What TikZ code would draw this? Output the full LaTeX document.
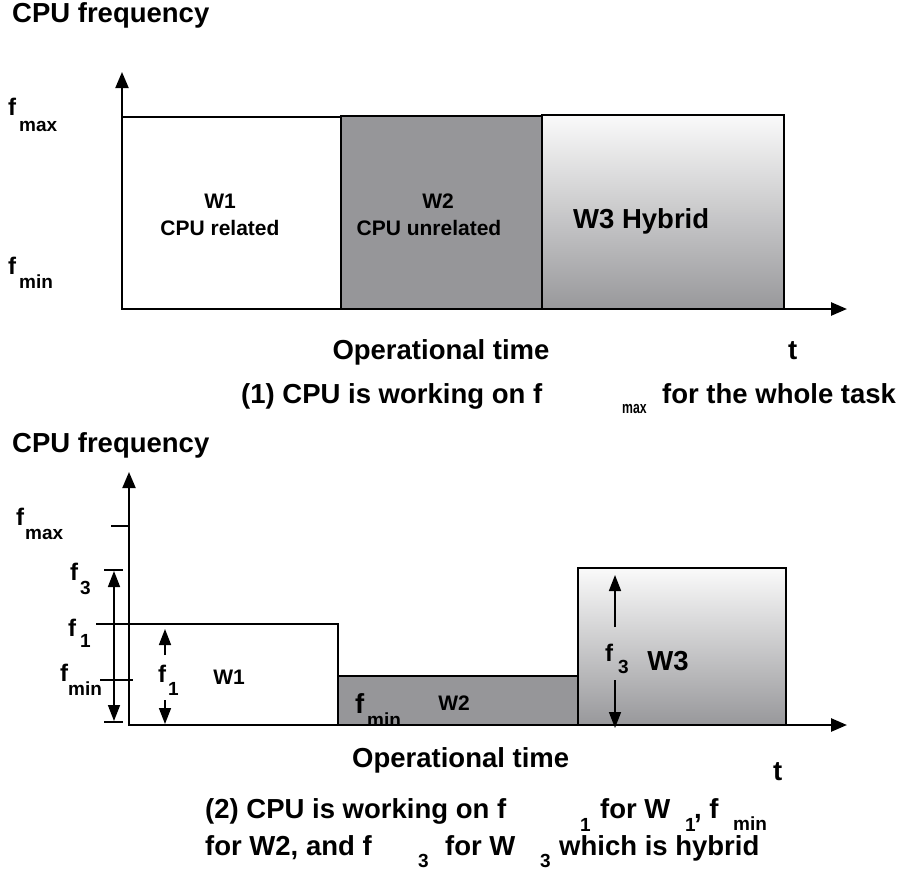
\documentclass[tikz,border=0pt]{standalone}
\usepackage{fontspec}
\setmainfont{Liberation Sans}
\usetikzlibrary{arrows.meta}
\newcommand\myfs[1]{\fontsize{#1}{#1}\selectfont\bfseries}
\definecolor{wtwo}{RGB}{150,150,153}
\definecolor{wthreetop}{RGB}{250,250,250}
\definecolor{wthreebot}{RGB}{152,152,155}
\tikzset{
  axis/.style={line width=2pt,-{Triangle[width=13pt,length=16pt]}},
  arr/.style={line width=1.6pt,-{Triangle[width=12pt,length=16pt]}},
  dblarr/.style={line width=1.6pt,{Triangle[width=12pt,length=16pt]}-{Triangle[width=12pt,length=16pt]}},
  tick/.style={line width=1.4pt},
  boxw/.style={draw=black,line width=1.6pt,fill=white},
  boxg/.style={draw=black,line width=1.6pt,fill=wtwo},
  boxh/.style={draw=black,line width=1.6pt,top color=wthreetop,bottom color=wthreebot},
  big/.style={inner sep=0pt,font=\myfs{27.5}},
  mid/.style={inner sep=0pt,font=\myfs{21}},
  flab/.style={inner sep=0pt,font=\myfs{24}},
  sub/.style={inner sep=0pt,font=\myfs{19}},
}
\begin{document}
\begin{tikzpicture}[x=1pt,y=-1pt]
\useasboundingbox (0,0) rectangle (904,870);
% ---------------- top panel ----------------
\coordinate (o1) at (122,309);
\coordinate (ytip1) at (122,72);
\coordinate (xtip1) at (847,309);
\draw[boxw] (122,117) rectangle (341,309);
\draw[boxg] (341,116) rectangle (542,309);
\draw[boxh] (542,115) rectangle (784,309);
\draw[axis] (o1) -- (ytip1);
\draw[axis,line width=2.6pt] (o1) -- (xtip1);
\node[big,anchor=base west] (cf1) at (12,22) {CPU frequency};
\node[flab,anchor=base west] (fmaxa) at (8,115) {f};
\node[sub,anchor=base west] (fmaxb) at (19,131) {max};
\node[flab,anchor=base west] (fmina) at (8,274) {f};
\node[sub,anchor=base west] (fminb) at (19,288) {min};
\node[mid,anchor=base] (w1a) at (220,208) {W1};
\node[mid,anchor=base] (w1b) at (220,235) {CPU related};
\node[mid,anchor=base] (w2a) at (438,208) {W2};
\node[mid,anchor=base] (w2b) at (429,235) {CPU unrelated};
\node[big,anchor=base west] (w3a) at (573,228) {W3 Hybrid};
\node[big,anchor=base] (op1) at (441,359) {Operational time};
\node[big,anchor=base west] (t1) at (788,359) {t};
\node[big,anchor=base west] (cap1a) at (241,403) {(1) CPU is working on f};
\node[inner sep=0pt,anchor=base west,font=\myfs{17}] (cap1b) at (622,413) {\scalebox{0.72}[1]{max}};
\node[big,anchor=base west] (cap1c) at (662,403) {for the whole task};
% ---------------- bottom panel ----------------
\coordinate (o2) at (129,725);
\coordinate (ytip2) at (129,472);
\coordinate (xtip2) at (847,725);
\draw[boxw] (129,624) rectangle (338,725);
\draw[boxg] (338,676) rectangle (578,725);
\draw[boxh] (578,568) rectangle (786,725);
\draw[tick] (96,624) -- (129,624);
\draw[axis] (o2) -- (ytip2);
\draw[axis,line width=2.6pt] (o2) -- (xtip2);
% ticks
\coordinate (tmaxl) at (111,526); \coordinate (tmaxr) at (129,526);
\draw[tick] (tmaxl) -- (tmaxr);
\coordinate (t3l) at (104,570); \coordinate (t3r) at (123,570);
\coordinate (t0l) at (104,722); \coordinate (t0r) at (123,722);
\draw[tick] (t3l) -- (t3r);
\draw[tick] (t0l) -- (t0r);
\coordinate (tminl) at (100,680); \coordinate (tminr) at (133,680);
\draw[tick] (tminl) -- (tminr);
\coordinate (d3a) at (114,571); \coordinate (d3b) at (114,721);
\draw[dblarr] (d3b) -- (d3a);
% arrows in W1
\coordinate (a1s) at (165,655); \coordinate (a1t) at (165,629);
\coordinate (a2s) at (165,700); \coordinate (a2t) at (165,724);
\draw[arr] (a1s) -- (a1t);
\draw[arr] (a2s) -- (a2t);
% arrows in W3
\coordinate (b1s) at (615,627); \coordinate (b1t) at (615,575);
\coordinate (b2s) at (615,680); \coordinate (b2t) at (615,728);
\draw[arr] (b1s) -- (b1t);
\draw[arr] (b2s) -- (b2t);
% labels
\node[big,anchor=base west] (cf2) at (12,452) {CPU frequency};
\node[flab,anchor=base west] (l1a) at (16,525) {f};
\node[sub,anchor=base west] (l1b) at (25,539) {max};
\node[flab,anchor=base west] (l2a) at (70,580) {f};
\node[sub,anchor=base west] (l2b) at (80,594) {3};
\node[flab,anchor=base west] (l3a) at (68,636) {f};
\node[sub,anchor=base west] (l3b) at (80,647) {1};
\node[flab,anchor=base west] (l4a) at (60,681) {f};
\node[sub,anchor=base west] (l4b) at (68,695) {min};
\node[flab,anchor=base west] (l5a) at (158,682) {f};
\node[sub,anchor=base west] (l5b) at (168,695) {1};
\node[mid,anchor=base] (bw1) at (229,684) {W1};
\node[big,anchor=base west] (l6a) at (355,713) {f};
\node[sub,anchor=base west] (l6b) at (367,726) {min};
\node[mid,anchor=base] (bw2) at (454,710) {W2};
\node[flab,anchor=base west] (l7a) at (605,661) {f};
\node[sub,anchor=base west] (l7b) at (618,673) {3};
\node[big,anchor=base] (bw3) at (668,670) {W3};
\node[big,anchor=base west] (op2) at (352,767) {Operational time};
\node[big,anchor=base west] (t2) at (773,780) {t};
% caption 2
\node[big,anchor=base west] (c2a) at (205,818) {(2) CPU is working on f};
\node[sub,anchor=base west] (c2b) at (580,831) {1};
\node[big,anchor=base west] (c2c) at (600,818) {for W};
\node[sub,anchor=base west] (c2d) at (685,831) {1};
\node[big,anchor=base west] (c2e) at (694,818) {, f};
\node[sub,anchor=base west] (c2f) at (733,830) {min};
\node[big,anchor=base west] (c2g) at (205,855) {for W2, and f};
\node[sub,anchor=base west] (c2h) at (418,867) {3};
\node[big,anchor=base west] (c2i) at (445,855) {for W};
\node[sub,anchor=base west] (c2j) at (540,867) {3};
\node[big,anchor=base west] (c2k) at (559,855) {which is hybrid};
\end{tikzpicture}
\end{document}
